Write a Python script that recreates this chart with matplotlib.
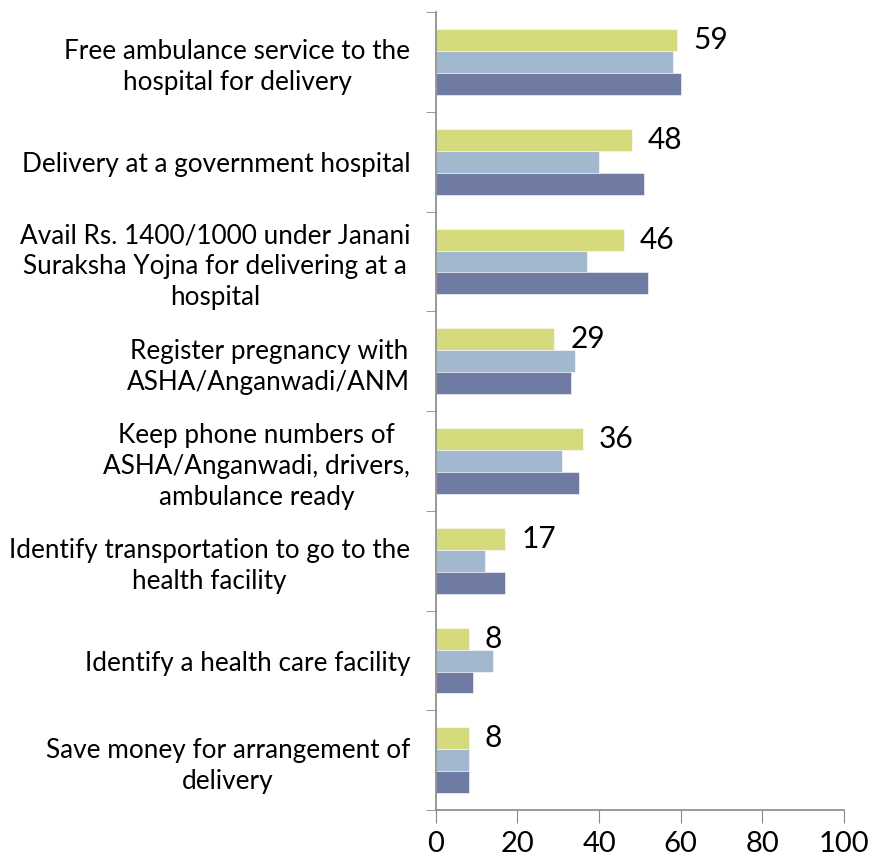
import numpy as np
import matplotlib.pyplot as plt

categories = [
    'Free ambulance service to the\nhospital for delivery',
    'Delivery at a government hospital',
    'Avail Rs. 1400/1000 under Janani\nSuraksha Yojna for delivering at a\nhospital',
    'Register pregnancy with\nASHA/Anganwadi/ANM',
    'Keep phone numbers of\nASHA/Anganwadi, drivers,\nambulance ready',
    'Identify transportation to go to the\nhealth facility',
    'Identify a health care facility',
    'Save money for arrangement of\ndelivery',
]
series_green = [59, 48, 46, 29, 36, 17, 8, 8]
series_light = [58, 40, 37, 34, 31, 12, 14, 8]
series_dark = [60, 51, 52, 33, 35, 17, 9, 8]
xticks = [0, 20, 40, 60, 80, 100]

plt.rcParams['font.family'] = ['Lato', 'DejaVu Sans']

fig = plt.figure(figsize=(8.7, 8.61), dpi=100)
ax = fig.add_axes([0.501, 0.059, 0.469, 0.927])

y = np.arange(len(categories))
h = 0.22
ax.barh(y - h, series_green, height=h, color='#D5DA7D', edgecolor='white', linewidth=0.4)
ax.barh(y, series_light, height=h, color='#A1B8CE', edgecolor='white', linewidth=0.4)
ax.barh(y + h, series_dark, height=h, color='#707BA3', edgecolor='white', linewidth=0.4)

for yi, v in zip(y, series_green):
    ax.text(v + 4, yi - h, str(v), va='center', ha='left', fontsize=21.5)

ax.set_ylim(len(categories) - 0.5, -0.5)
ax.set_xlim(0, 100)
ax.set_xticks(xticks)
ax.tick_params(axis='x', labelsize=21, length=9, color='#888888', pad=6)

ax.set_yticks(y)
ax.set_yticklabels(categories, fontsize=18.8, multialignment='center', linespacing=1.3)
ax.tick_params(axis='y', which='major', length=0, pad=18.5)
ax.set_yticks(np.arange(-0.5, len(categories), 1), minor=True)
ax.tick_params(axis='y', which='minor', length=7, color='#888888')

for s in ['top', 'right']:
    ax.spines[s].set_visible(False)
for s in ['left', 'bottom']:
    ax.spines[s].set_color('#888888')
    ax.spines[s].set_linewidth(1.2)

fig.savefig('out.png', dpi=100)
